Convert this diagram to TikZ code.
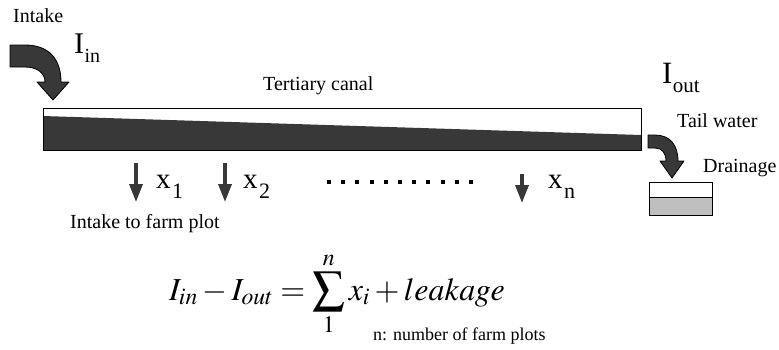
\documentclass[tikz,border=0pt]{standalone}
\usepackage{mathptmx}
\usepackage[no-math]{fontspec}
\setmainfont{Liberation Serif}
\newfontfamily\tnr{Liberation Serif}
\usetikzlibrary{arrows.meta}
\definecolor{darkfill}{gray}{0.22}
\definecolor{lightfill}{gray}{0.75}
\newcommand{\fs}[1]{\tnr\fontsize{#1}{#1}\selectfont}
\tikzset{
  lbl/.style={anchor=base west, inner sep=0pt, font=\fs{20}},
  bigarrow/.style={fill=darkfill, draw=black, line width=0.8pt, line join=round},
  plotarrow/.style={draw=darkfill, line width=3.5pt, -{Triangle[width=13pt,length=18pt]}},
  dotmark/.style={fill=black, inner sep=0pt, minimum size=4pt, draw=none}
}
\begin{document}
\begin{tikzpicture}[x=1pt,y=-1pt]
\useasboundingbox (0,0) rectangle (779,349);
% intake arrow
\path[bigarrow] (10,45) -- (25,45) .. controls (48,45) and (61,58) .. (61,82) -- (69,82) -- (53,100) -- (37,82) -- (45,82) .. controls (45,73) and (37,67) .. (25,67) -- (10,67) -- cycle;
\node[lbl] (intake) at (13,22) {Intake};
\node[lbl, font=\fs{30}] (Iin) at (74,53) {I};
\node[lbl] (inlab) at (Iin.base east) {\raisebox{-9pt}{in}};
% canal
\node[lbl] (canallab) at (263,90) {Tertiary canal};
\fill[darkfill] (43,116) -- (641,135) -- (641,150) -- (43,150) -- cycle;
\draw[line width=1pt] (43,108) rectangle (641,150);
% I_out
\node[lbl, font=\fs{31}] (Iout) at (662,83) {I};
\node[lbl, font=\fs{21}] (outlab) at (Iout.base east) {\raisebox{-9pt}{out}};
\node[lbl] (tail) at (677,127) {Tail water};
% tail water arrow
\path[bigarrow] (648,135) -- (655,135) .. controls (670,135) and (678,145) .. (678,161) -- (684,161) -- (672,178) -- (660,161) -- (666,161) .. controls (666,153) and (662,148) .. (655,148) -- (648,148) -- cycle;
\node[lbl] (drain) at (703,172) {Drainage};
% drainage box
\fill[lightfill] (649,197) rectangle (712,215);
\draw[line width=1pt] (649,182) rectangle (712,215);
\draw[line width=1pt] (649,197) -- (712,197);
% plot arrows
\coordinate (a1s) at (136,163); \coordinate (a1e) at (136,202);
\coordinate (a2s) at (225,163); \coordinate (a2e) at (225,202);
\coordinate (ans) at (522,174); \coordinate (ane) at (522,203);
\draw[plotarrow] (a1s) -- (a1e);
\draw[plotarrow] (a2s) -- (a2e);
\draw[plotarrow] (ans) -- (ane);
\node[lbl, font=\fs{29}] (x1) at (156,188) {x};
\node[lbl, font=\fs{22}] (x1s) at ([xshift=1pt]x1.base east) {\raisebox{-10pt}{1}};
\node[lbl, font=\fs{29}] (x2) at (243,188) {x};
\node[lbl, font=\fs{22}] (x2s) at ([xshift=1pt]x2.base east) {\raisebox{-10pt}{2}};
\node[lbl, font=\fs{29}] (xn) at (548,188) {x};
\node[lbl, font=\fs{22}] (xns) at ([xshift=1pt]xn.base east) {\raisebox{-10pt}{n}};
\foreach \i in {0,...,10} {
  \node[dotmark] (dot\i) at ({329+14.2*\i},182) {};
}
\node[lbl] (farm) at (70,228) {Intake to farm plot};
% equation
\node[anchor=base, inner sep=0pt] (eq) at (337,300) {\fontsize{32}{36}\selectfont $\displaystyle I_{in}-I_{out}=\sum_{1}^{n}x_i+leakage$};
\node[lbl, font=\fs{18}] (nlab) at (373,340) {n: number of farm plots};
\end{tikzpicture}
\end{document}
